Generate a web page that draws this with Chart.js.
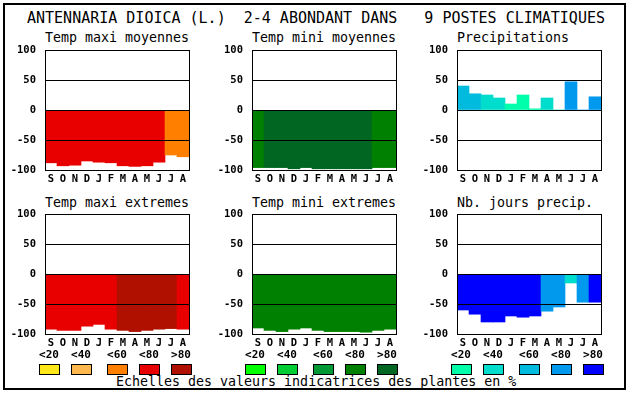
<!DOCTYPE html>
<html>
<head>
<meta charset="utf-8">
<script src="https://cdn.jsdelivr.net/npm/chart.js@4.4.1/dist/chart.umd.min.js"></script>
<style>
  body { margin: 0; background: #fff; }
  #page { position: relative; width: 630px; height: 394px; overflow: hidden; font-family: "DejaVu Sans Mono", monospace; color: #000; }
  .frame { position: absolute; left: 3px; top: 3px; width: 619px; height: 383px; border: 2px solid #000; }
  .txt { position: absolute; white-space: pre; line-height: 1; }
  .title { font-size: 15px; }
  .sub { font-size: 13.3px; }
  .lab { font-size: 11px; font-weight: bold; width: 20px; text-align: center; }
  .box { position: absolute; width: 21px; height: 11px; box-sizing: border-box; border: 1px solid #000; }
  canvas { position: absolute; }
</style>
</head>
<body>
<div id="page">
  <div class="frame"></div>
  <div class="txt title" style="left:27px; top:11px;">ANTENNARIA DIOICA (L.)  2-4 ABONDANT DANS   9 POSTES CLIMATIQUES</div>
  <div class="txt sub" style="left:116px; top:375px;">Echelles des valeurs indicatrices des plantes en %</div>
</div>
<script>
// months, Sept -> Aug
const months = ['S', 'O', 'N', 'D', 'J', 'F', 'M', 'A', 'M', 'J', 'J', 'A'];
const yMin = -100;
const yMax = 100;
const yStep = 50;

// values, class = abundance scale index (0 = <20 ... 4 = >80)
const tempMaxiMoy = [-88, -93, -92, -85, -87, -88, -93, -94, -93, -87, -75, -78];
const tempMaxiMoyClass = [3, 3, 3, 3, 3, 3, 3, 3, 3, 3, 2, 2];

const tempMiniMoy = [-96, -96, -96, -98, -96, -98, -98, -98, -98, -98, -96, -96];
const tempMiniMoyClass = [3, 4, 4, 4, 4, 4, 4, 4, 4, 4, 3, 3];

const precip = [40, 27, 25, 20, 10, 25, 2, 20, 0, 47, 0, 22];
const precipClass = [2, 2, 1, 1, 0, 0, 0, 1, 1, 3, 3, 3];

const tempMaxiExt = [-92, -94, -94, -87, -84, -92, -94, -96, -94, -92, -91, -92];
const tempMaxiExtClass = [3, 3, 3, 3, 3, 3, 4, 4, 4, 4, 4, 3];

const tempMiniExt = [-90, -94, -96, -92, -90, -94, -96, -96, -96, -97, -94, -92];
const tempMiniExtClass = [3, 3, 3, 3, 3, 3, 3, 3, 3, 3, 3, 3];

const joursPrecip = [-60, -67, -80, -80, -70, -72, -70, -62, -55, -15, -47, -47];
const joursPrecipClass = [4, 4, 4, 4, 4, 4, 4, 3, 3, 1, 3, 4];

const legendLabels = ['<20', '<40', '<60', '<80', '>80'];
const redScale = ['#ffe81a', '#ffb84d', '#ff8000', '#e80000', '#b01000'];
const greenScale = ['#00ff00', '#00cc33', '#009933', '#008000', '#006622'];
const blueScale = ['#00ffaa', '#00ddcc', '#00bbdd', '#0099ee', '#0000ff'];

const PLOT_W = 144;
const PLOT_H = 120;

const page = document.getElementById('page');

// same half-pixel snapping that Chart.js uses for 1px grid lines
const snap = v => Math.round(v - 0.5);

// black box around the plot area
const framePlugin = {
    id: 'plotFrame',
    afterDraw(chart) {
        const a = chart.chartArea;
        const ctx = chart.ctx;
        const x0 = snap(a.left), y0 = snap(a.top);
        ctx.save();
        ctx.strokeStyle = '#000';
        ctx.lineWidth = 1;
        ctx.strokeRect(x0 + 0.5, y0 + 0.5, snap(a.right) - x0, snap(a.bottom) - y0);
        ctx.restore();
    }
};

function addText(cls, text, x, y) {
    const d = document.createElement('div');
    d.className = 'txt ' + cls;
    d.textContent = text;
    d.style.left = x + 'px';
    d.style.top = y + 'px';
    page.appendChild(d);
}

function makePanel(plotX, plotY, subTop, title, values, classes, palette) {
    addText('sub', title, plotX, subTop);

    const canvas = document.createElement('canvas');
    canvas.width = 191;
    canvas.height = 144;
    page.appendChild(canvas);

    const tickFont = { family: 'DejaVu Sans Mono', size: 10.5, weight: 'bold', lineHeight: '12px' };

    const chart = new Chart(canvas.getContext('2d'), {
        type: 'bar',
        data: {
            labels: months,
            datasets: [{
                data: values,
                backgroundColor: classes.map(c => palette[c]),
                borderWidth: 0,
                barPercentage: 1,
                categoryPercentage: 1
            }]
        },
        options: {
            responsive: false,
            maintainAspectRatio: false,
            animation: false,
            devicePixelRatio: 1,
            layout: { padding: { top: 0, right: 2, left: 0, bottom: 0 } },
            plugins: { legend: { display: false }, tooltip: { enabled: false } },
            scales: {
                x: {
                    grid: { display: false, drawTicks: false },
                    border: { display: false },
                    ticks: { color: '#000', font: tickFont, padding: 3, maxRotation: 0, autoSkip: false },
                    afterFit: scale => { scale.height = 16; }
                },
                y: {
                    min: yMin,
                    max: yMax,
                    grid: { color: '#000', lineWidth: 1, drawTicks: false, z: 1 },
                    border: { display: false },
                    ticks: { stepSize: yStep, color: '#000', font: tickFont, padding: 9 },
                    afterFit: scale => { scale.width = 45; }
                }
            }
        },
        plugins: [framePlugin]
    });

    // size the canvas so the plot area is exactly PLOT_W x PLOT_H, then place it
    let a = chart.chartArea;
    chart.resize(canvas.width + PLOT_W - Math.round(a.right - a.left),
        canvas.height + PLOT_H - Math.round(a.bottom - a.top));
    a = chart.chartArea;
    canvas.style.left = (plotX - snap(a.left)) + 'px';
    canvas.style.top = (plotY - snap(a.top)) + 'px';
}

function makeLegend(startX, palette) {
    const offsets = [0, 32, 68, 100, 132];
    legendLabels.forEach((lab, i) => {
        addText('lab', lab, startX + offsets[i], 349);
        const b = document.createElement('div');
        b.className = 'box';
        b.style.left = (startX + offsets[i]) + 'px';
        b.style.top = '364px';
        b.style.background = palette[i];
        page.appendChild(b);
    });
}

makePanel(45, 50, 31, 'Temp maxi moyennes', tempMaxiMoy, tempMaxiMoyClass, redScale);
makePanel(252, 50, 31, 'Temp mini moyennes', tempMiniMoy, tempMiniMoyClass, greenScale);
makePanel(457, 50, 31, 'Precipitations', precip, precipClass, blueScale);
makePanel(45, 214, 196, 'Temp maxi extremes', tempMaxiExt, tempMaxiExtClass, redScale);
makePanel(252, 214, 196, 'Temp mini extremes', tempMiniExt, tempMiniExtClass, greenScale);
makePanel(457, 214, 196, 'Nb. jours precip.', joursPrecip, joursPrecipClass, blueScale);

makeLegend(39, redScale);
makeLegend(245, greenScale);
makeLegend(451, blueScale);
</script>
</body>
</html>
